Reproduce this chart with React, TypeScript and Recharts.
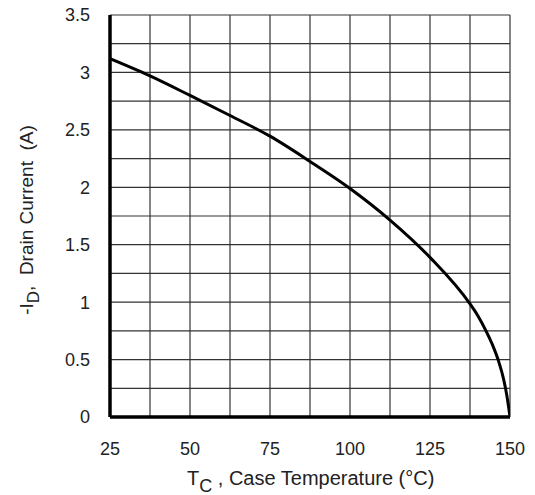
import React from 'react';
import { LineChart, Line, XAxis, YAxis, CartesianGrid } from 'recharts';

const temps = [25, 37.5, 50, 62.5, 75, 87.5, 100, 112.5, 125, 137.5, 140, 142.5, 144.5, 146.5, 148, 149, 149.6, 150];
const current = [3.12, 2.97, 2.8, 2.625, 2.445, 2.225, 1.99, 1.715, 1.39, 0.985, 0.88, 0.75, 0.63, 0.48, 0.33, 0.19, 0.08, 0];
const xTicks = [25, 37.5, 50, 62.5, 75, 87.5, 100, 112.5, 125, 137.5, 150];
const yTicks = [0, 0.25, 0.5, 0.75, 1, 1.25, 1.5, 1.75, 2, 2.25, 2.5, 2.75, 3, 3.25, 3.5];

const data = temps.map((t, i) => ({ t, i: current[i] }));

const FONT = '"Liberation Sans", Arial, sans-serif';
const tickStyle = { fontSize: 18, fill: '#222', fontFamily: FONT };

export default function App() {
  return (
    <div style={{ position: 'absolute', left: 0, top: 0, width: 535, height: 495, background: '#fff' }}>
      <LineChart width={535} height={495} data={data} margin={{ top: 15, right: 25, left: 0, bottom: 0 }}>
        <CartesianGrid stroke="#333" strokeWidth={1.2} />
        <XAxis
          dataKey="t"
          type="number"
          domain={[25, 150]}
          ticks={xTicks}
          interval={0}
          tickFormatter={(v: number) => (v % 25 === 0 ? String(v) : '')}
          tick={tickStyle}
          tickLine={false}
          tickSize={0}
          tickMargin={25}
          height={78}
          axisLine={{ stroke: '#000', strokeWidth: 3.5 }}
          allowDataOverflow
        />
        <XAxis
          xAxisId="top"
          orientation="top"
          type="number"
          domain={[25, 150]}
          tick={false}
          tickLine={false}
          height={0}
          axisLine={{ stroke: '#000', strokeWidth: 2 }}
        />
        <YAxis
          type="number"
          domain={[0, 3.5]}
          ticks={yTicks}
          interval={0}
          tickFormatter={(v: number) => (Math.abs((v * 2) % 1) < 1e-9 ? String(v) : '')}
          tick={tickStyle}
          tickLine={false}
          tickSize={0}
          tickMargin={20}
          width={110}
          axisLine={{ stroke: '#000', strokeWidth: 3.5 }}
          allowDataOverflow
        />
        <YAxis
          yAxisId="right"
          orientation="right"
          type="number"
          domain={[0, 3.5]}
          tick={false}
          tickLine={false}
          width={0}
          axisLine={{ stroke: '#000', strokeWidth: 3 }}
        />
        <Line
          dataKey="i"
          type="monotone"
          stroke="#000"
          strokeWidth={3}
          dot={false}
          isAnimationActive={false}
        />
      </LineChart>
      <svg width={535} height={495} style={{ position: 'absolute', left: 0, top: 0, pointerEvents: 'none' }}>
        <text x={187} y={485} fontSize={20} fill="#222" fontFamily={FONT}>
          T<tspan dy={7} fontSize={18}>C</tspan>
          <tspan dy={-7} xmlSpace="preserve">{' , Case Temperature (°C)'}</tspan>
        </text>
        <text
          transform="translate(33,220) rotate(-90)"
          x={0}
          y={0}
          textAnchor="middle"
          fontSize={19}
          fill="#222"
          fontFamily={FONT}
          style={{ whiteSpace: 'pre' }}
        >
          -I<tspan dy={6} fontSize={17}>D</tspan>
          <tspan dy={-6}>{',  Drain Current  (A)'}</tspan>
        </text>
      </svg>
    </div>
  );
}
